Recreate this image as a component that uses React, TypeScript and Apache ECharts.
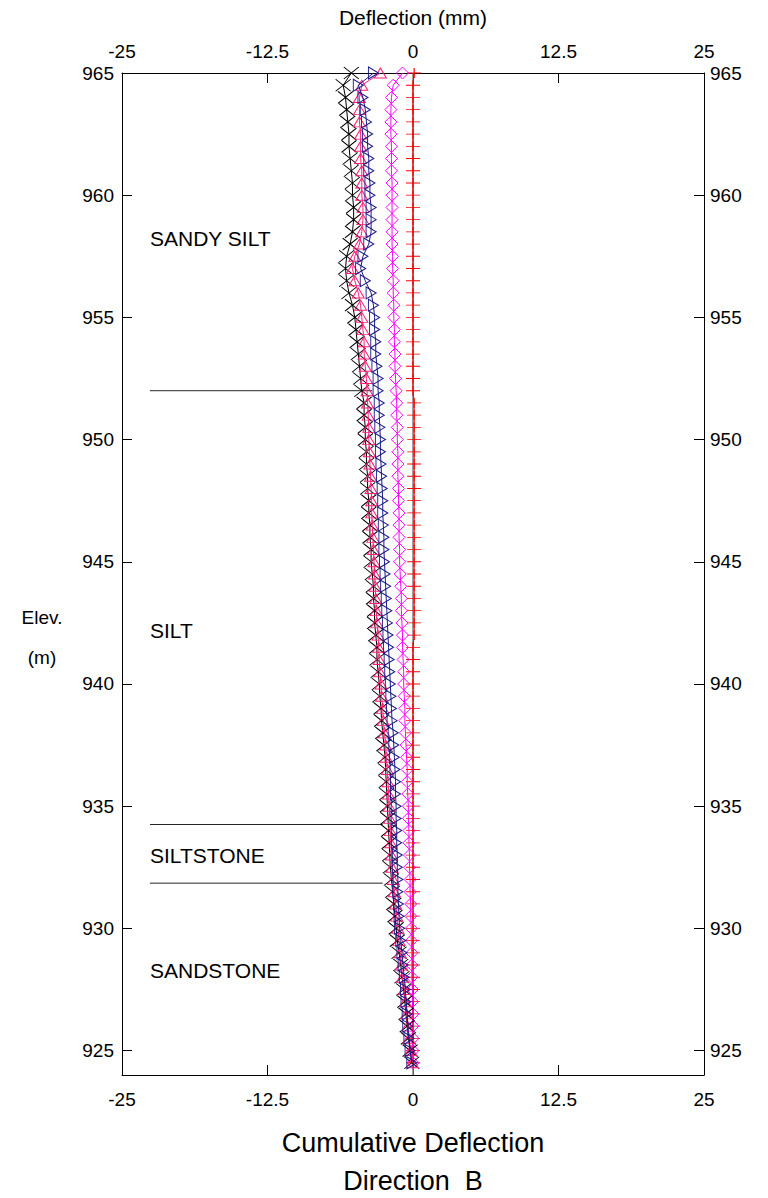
import { useEffect, useRef } from "react";
import * as echarts from "echarts";

// Reading depths (m elevation), one every 0.5 m from the collar down.
const elevations = [
  965, 964.5, 964, 963.5, 963, 962.5, 962, 961.5, 961, 960.5,
  960, 959.5, 959, 958.5, 958, 957.5, 957, 956.5, 956, 955.5,
  955, 954.5, 954, 953.5, 953, 952.5, 952, 951.5, 951, 950.5,
  950, 949.5, 949, 948.5, 948, 947.5, 947, 946.5, 946, 945.5,
  945, 944.5, 944, 943.5, 943, 942.5, 942, 941.5, 941, 940.5,
  940, 939.5, 939, 938.5, 938, 937.5, 937, 936.5, 936, 935.5,
  935, 934.5, 934, 933.5, 933, 932.5, 932, 931.5, 931, 930.5,
  930, 929.5, 929, 928.5, 928, 927.5, 927, 926.5, 926, 925.5,
  925, 924.5,
];

// Cumulative deflection (mm), Direction B, one list per survey.
const surveyBlack = [
  -5.3, -6.0, -5.8, -5.7, -5.6, -5.5, -5.5, -5.4, -5.3, -5.2,
  -5.2, -5.1, -5.1, -5.2, -5.4, -5.7, -5.8, -5.7, -5.5, -5.2,
  -5.0, -4.9, -4.8, -4.7, -4.6, -4.5, -4.4, -4.2, -4.2, -4.1,
  -4.1, -4.0, -4.0, -3.9, -3.9, -3.8, -3.8, -3.7, -3.7, -3.6,
  -3.6, -3.5, -3.4, -3.4, -3.3, -3.3, -3.2, -3.1, -3.1, -3.0,
  -2.9, -2.85, -2.75, -2.7, -2.6, -2.5, -2.4, -2.35, -2.3, -2.25,
  -2.2, -2.15, -2.1, -2.05, -2.0, -1.95, -1.85, -1.75, -1.65, -1.55,
  -1.45, -1.35, -1.2, -1.05, -0.95, -0.8, -0.7, -0.6, -0.5, -0.4,
  -0.25, -0.1,
];

const surveyNavy = [
  -3.4, -4.7, -4.3, -4.1, -4.0, -3.9, -3.9, -3.8, -3.8, -3.7,
  -3.7, -3.6, -3.6, -3.6, -3.8, -4.3, -4.5, -4.1, -3.6, -3.4,
  -3.3, -3.3, -3.2, -3.2, -3.1, -3.0, -3.0, -2.9, -2.9, -2.85,
  -2.8, -2.8, -2.75, -2.7, -2.65, -2.6, -2.6, -2.55, -2.5, -2.5,
  -2.45, -2.4, -2.35, -2.3, -2.25, -2.2, -2.15, -2.1, -2.05, -2.0,
  -1.95, -1.9, -1.85, -1.8, -1.7, -1.65, -1.6, -1.55, -1.5, -1.5,
  -1.45, -1.45, -1.4, -1.4, -1.35, -1.35, -1.3, -1.3, -1.25, -1.2,
  -1.15, -1.05, -0.95, -0.85, -0.75, -0.65, -0.6, -0.5, -0.45, -0.35,
  -0.25, -0.1,
];

const surveyPink = [
  -2.8, -4.4, -4.6, -4.6, -4.6, -4.5, -4.5, -4.5, -4.4, -4.4,
  -4.4, -4.3, -4.3, -4.4, -4.6, -5.0, -5.2, -5.0, -4.7, -4.5,
  -4.4, -4.3, -4.2, -4.2, -4.1, -4.0, -3.95, -3.9, -3.85, -3.8,
  -3.8, -3.75, -3.7, -3.65, -3.6, -3.55, -3.55, -3.5, -3.45, -3.4,
  -3.35, -3.3, -3.25, -3.2, -3.15, -3.1, -3.0, -2.95, -2.9, -2.85,
  -2.75, -2.7, -2.6, -2.55, -2.45, -2.35, -2.3, -2.2, -2.15, -2.1,
  -2.05, -2.0, -1.95, -1.9, -1.85, -1.8, -1.7, -1.6, -1.5, -1.4,
  -1.3, -1.2, -1.1, -1.0, -0.9, -0.75, -0.65, -0.55, -0.45, -0.35,
  -0.2, -0.05,
];

const surveyMagenta = [
  -0.9, -1.7, -1.85, -1.9, -1.9, -1.9, -1.85, -1.85, -1.85, -1.8,
  -1.8, -1.8, -1.8, -1.8, -1.8, -1.75, -1.75, -1.7, -1.7, -1.65,
  -1.65, -1.6, -1.6, -1.55, -1.55, -1.5, -1.45, -1.4, -1.4, -1.35,
  -1.35, -1.3, -1.3, -1.3, -1.25, -1.25, -1.2, -1.2, -1.2, -1.15,
  -1.15, -1.1, -1.05, -1.0, -1.0, -0.95, -0.9, -0.9, -0.85, -0.8,
  -0.8, -0.75, -0.7, -0.7, -0.65, -0.6, -0.55, -0.5, -0.5, -0.45,
  -0.4, -0.4, -0.35, -0.35, -0.3, -0.3, -0.25, -0.25, -0.2, -0.2,
  -0.15, -0.15, -0.1, -0.1, -0.1, -0.05, -0.05, 0, 0, 0,
  0, 0,
];

const surveyRed = [
  0.1, 0, 0, 0, 0, 0, 0, 0, 0, 0,
  0, 0, 0, 0, 0, 0, 0, 0, 0, 0,
  0, 0, 0, 0, 0, 0, 0, 0.1, 0.1, 0.1,
  0.1, 0.1, 0.1, 0.1, 0.1, 0.1, 0.1, 0.1, 0.1, 0.1,
  0.1, 0.1, 0.1, 0.1, 0.1, 0.1, 0.1, 0, 0, 0,
  0, 0, 0, 0, 0, 0, 0, 0, 0, 0,
  0, 0, 0, 0, 0, 0, 0, 0, 0, 0,
  0, 0, 0, 0, 0, 0, 0, 0, 0, 0,
  0, 0,
];

// Axis ticks
const deflectionTicks = [-25, -12.5, 0, 12.5, 25];
const elevationTicks = [925, 930, 935, 940, 945, 950, 955, 960, 965];

// Stratigraphy: boundary elevations and where each boundary line stops (mm)
const boundaryElev = [952.0, 934.25, 931.85];
const boundaryStart = -22.6;
const boundaryEnd = [-3.5, -2.6, -2.6];
const layerNames = ["SANDY SILT", "SILT", "SILTSTONE", "SANDSTONE"];

const FONT = "'Liberation Sans', Arial, Helvetica, sans-serif";

const SYM_CROSS = "path://M0,0L10,10M10,0L0,10";
const SYM_DIAMOND = "path://M5,0L10,5L5,10L0,5Z";
const SYM_TRI_RIGHT = "path://M0,0L10,5L0,10Z";
const SYM_TRI_UP = "path://M5,0L10,10L0,10Z";
const SYM_PLUS = "path://M0,5L10,5M5,0L5,10";

function survey(
  name: string,
  values: number[],
  color: string,
  symbol: string,
  size: number[],
  extra: Record<string, unknown> = {}
) {
  return {
    type: "line",
    name,
    data: values.map((v, i) => [v, elevations[i]]),
    symbol,
    symbolSize: size,
    showAllSymbol: true,
    itemStyle: { color: "rgba(0,0,0,0)", borderColor: color, borderWidth: 1 },
    lineStyle: { color, width: 1 },
    emphasis: { disabled: true },
    ...extra,
  };
}

export default function App() {
  const ref = useRef<HTMLDivElement>(null);

  useEffect(() => {
    if (!ref.current) return;
    const chart = echarts.init(ref.current, undefined, { renderer: "svg" });

    const axisText = { color: "#000", fontSize: 19, fontFamily: FONT };

    const xBase = {
      type: "value",
      min: -25,
      max: 25,
      interval: 12.5,
      axisLine: { show: true, onZero: false, lineStyle: { color: "#000", width: 1 } },
      axisTick: { show: true, inside: true, length: 10, lineStyle: { color: "#000" } },
      splitLine: { show: false },
    };

    const yBase = {
      type: "value",
      min: 924,
      max: 965,
      axisLine: { show: true, onZero: false, lineStyle: { color: "#000", width: 1 } },
      axisTick: {
        show: true,
        inside: true,
        length: 10,
        customValues: elevationTicks,
        lineStyle: { color: "#000" },
      },
      splitLine: { show: false },
    };

    const boundarySeries = boundaryElev.map((e, i) => ({
      type: "line",
      name: "boundary" + i,
      data: [
        [boundaryStart, e],
        [boundaryEnd[i], e],
      ],
      symbol: "none",
      lineStyle: { color: "#262626", width: 1 },
      silent: true,
      z: 1,
    }));

    const label = (text: string, x: number, y: number, size: number, align = "left") => ({
      type: "text",
      x,
      y,
      style: { text, fontSize: size, fontFamily: FONT, fill: "#000", align, verticalAlign: "middle" },
    });

    chart.setOption({
      animation: false,
      backgroundColor: "#fff",
      grid: {
        left: 122,
        right: 64,
        top: 73,
        bottom: 123,
        containLabel: false,
        outerBoundsMode: "none",
      },
      xAxis: [
        {
          ...xBase,
          position: "bottom",
          axisLabel: { ...axisText, margin: 15, customValues: deflectionTicks },
        },
        {
          ...xBase,
          position: "top",
          name: "Deflection (mm)",
          nameLocation: "middle",
          nameGap: 45,
          nameTextStyle: { ...axisText, fontSize: 21 },
          axisLabel: { ...axisText, margin: 12, customValues: deflectionTicks },
        },
      ],
      yAxis: [
        {
          ...yBase,
          position: "left",
          axisLabel: { ...axisText, margin: 8, customValues: elevationTicks },
        },
        {
          ...yBase,
          position: "right",
          axisLabel: { ...axisText, margin: 6, customValues: elevationTicks },
        },
      ],
      series: [
        ...boundarySeries,
        survey("Survey E", surveyRed, "#ff0000", SYM_PLUS, [14, 10], {
          z: 2,
          markLine: {
            silent: true,
            symbol: "none",
            label: { show: false },
            lineStyle: { color: "#808080", width: 1.5, type: "solid" },
            data: [{ xAxis: 0 }],
            z: 1,
          },
        }),
        survey("Survey D", surveyMagenta, "#ff00ff", SYM_DIAMOND, [12, 12], { z: 3 }),
        survey("Survey A", surveyBlack, "#000000", SYM_CROSS, [15, 12], { z: 4 }),
        survey("Survey C", surveyPink, "#ff1f7a", SYM_TRI_UP, [12, 10], { z: 5 }),
        survey("Survey B", surveyNavy, "#1a1a8c", SYM_TRI_RIGHT, [10, 12], { z: 6 }),
      ],
      graphic: [
        label("Elev.", 42, 617, 19, "center"),
        label("(m)", 42, 657, 19, "center"),
        label(layerNames[0], 150, 238, 21),
        label(layerNames[1], 150, 630, 21),
        label(layerNames[2], 150, 855, 21),
        label(layerNames[3], 150, 970, 21),
        label("Cumulative Deflection", 413, 1143, 27, "center"),
        label("Direction  B", 413, 1181, 27, "center"),
      ],
    });

    return () => chart.dispose();
  }, []);

  return (
    <div
      ref={ref}
      style={{ position: "absolute", left: 0, top: 0, width: 768, height: 1198, background: "#fff" }}
    />
  );
}
